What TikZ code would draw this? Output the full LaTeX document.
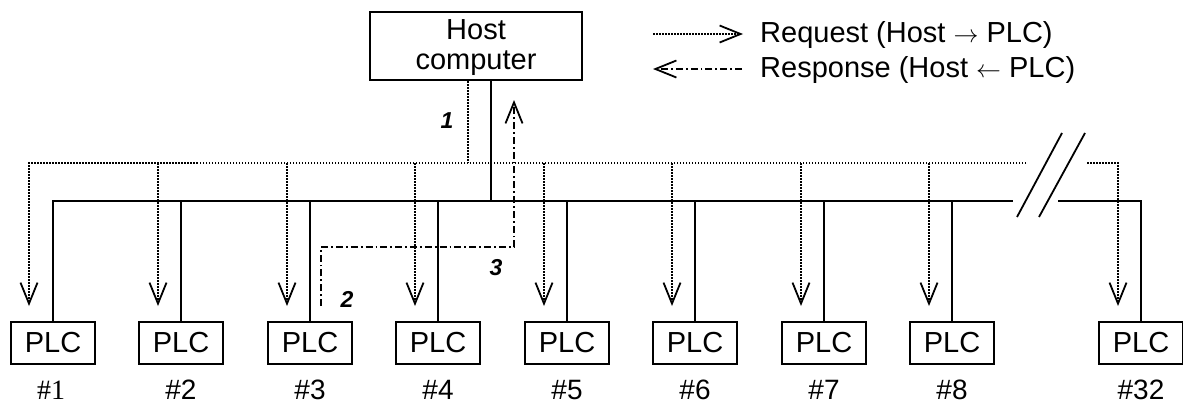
\documentclass[tikz,border=0pt]{standalone}
\usepackage{fontspec}
\setmainfont{Liberation Sans}
\newfontfamily\serifnum{Liberation Serif}
\usetikzlibrary{arrows.meta,calc}
\tikzset{
  bus/.style={line width=2pt},
  req/.style={line width=1.6pt, dash pattern=on 1.5pt off 1.5pt},
  resp/.style={line width=1.6pt, dash pattern=on 7pt off 3pt on 1.8pt off 3pt},
  vtip/.style={-{Straight Barb[length=21pt,width=17pt,line width=1.8pt]}},
  plc/.style={draw, line width=2pt, minimum width=84pt, minimum height=42pt, inner sep=0pt, font=\fontsize{29}{30}\selectfont},
  hostbox/.style={draw, line width=2pt, minimum width=212pt, minimum height=68pt, inner sep=0pt},
  hosttxt/.style={inner sep=0pt, align=center, font=\fontsize{29}{30}\selectfont},
  idx/.style={font=\fontsize{28}{30}\selectfont, inner sep=0pt, anchor=base},
  num/.style={font=\fontsize{23}{24}\selectfont\bfseries\itshape, inner sep=0pt},
  legtext/.style={anchor=west, inner sep=0pt, font=\fontsize{29}{30}\selectfont}
}
\begin{document}
\begin{tikzpicture}[x=1pt,y=-1pt]
\useasboundingbox (0,0) rectangle (1183,405);
% host
\node[hostbox] (host) at (476,46) {};
\node[hosttxt] (hostt) at (476,48) {Host\\computer};
% PLCs
\foreach \cx [count=\i] in {53,181,310,438,567,695,824,952}{
  \node[plc] (p\i) at (\cx,343) {PLC};
}
\node[plc] (p32) at (1141,343) {PLC};
% index labels
\node[idx] (l1) at (51,399) {\serifnum\#1};
\foreach \i in {2,...,8}{
  \node[idx] (l\i) at (p\i.center |- l1.base) {\#\i};
}
\node[idx] (l32) at (1141,399) {\#32};
% bus
\coordinate (busL) at (1013,201);
\coordinate (busR) at (1058,201);
\draw[bus] (p1.north) |- (busL);
\foreach \i in {2,...,8}{
  \draw[bus] (p\i.north) -- (p\i.north |- busL);
}
\draw[bus] (busR) -| (p32.north);
\draw[bus] ([xshift=15pt]host.south) -- ([xshift=15pt]host.south |- busL);
% break marks
\coordinate (s1a) at (1017,217); \coordinate (s1b) at (1062,133);
\coordinate (s2a) at (1039,217); \coordinate (s2b) at (1085,133);
\draw[line width=1.8pt] (s1a) -- (s1b);
\draw[line width=1.8pt] (s2a) -- (s2b);
% request lines
\coordinate (reqL) at (1026,163);
\coordinate (reqR) at (1087,163);
\draw[req] ([xshift=-8pt]host.south) -- ([xshift=-8pt]host.south |- reqL);
\draw[req,vtip] (reqL) -| ([xshift=-24pt,yshift=15pt]p1.north);
\foreach \i in {2,...,8}{
  \draw[req,vtip] ([xshift=-23pt]p\i.north |- reqL) -- ([xshift=-23pt,yshift=15pt]p\i.north);
}
\draw[req,vtip] (reqR) -| ([xshift=-23pt,yshift=15pt]p32.north);
% response
\coordinate (rv) at (514,247);
\coordinate (rtop) at (514,100);
\draw[resp,vtip] ([xshift=11pt,yshift=15pt]p3.north) |- (rv) -- (rtop);
% numbers
\node[num] (n1) at (447,121) {1};
\node[num] (n2) at (347,299) {2};
\node[num] (n3) at (496,268) {3};
% legend
\coordinate (la) at (653,34); \coordinate (lb) at (743,34);
\coordinate (lc) at (653,69); \coordinate (ld) at (742,69);
\draw[req,vtip] (la) -- (lb);
\draw[resp,vtip] (ld) -- (lc);
\node[legtext] (t1) at (760,35) {Request (Host $\rightarrow$ PLC)};
\node[legtext] (t2) at (760,70) {Response (Host $\leftarrow$ PLC)};
\end{tikzpicture}
\end{document}
